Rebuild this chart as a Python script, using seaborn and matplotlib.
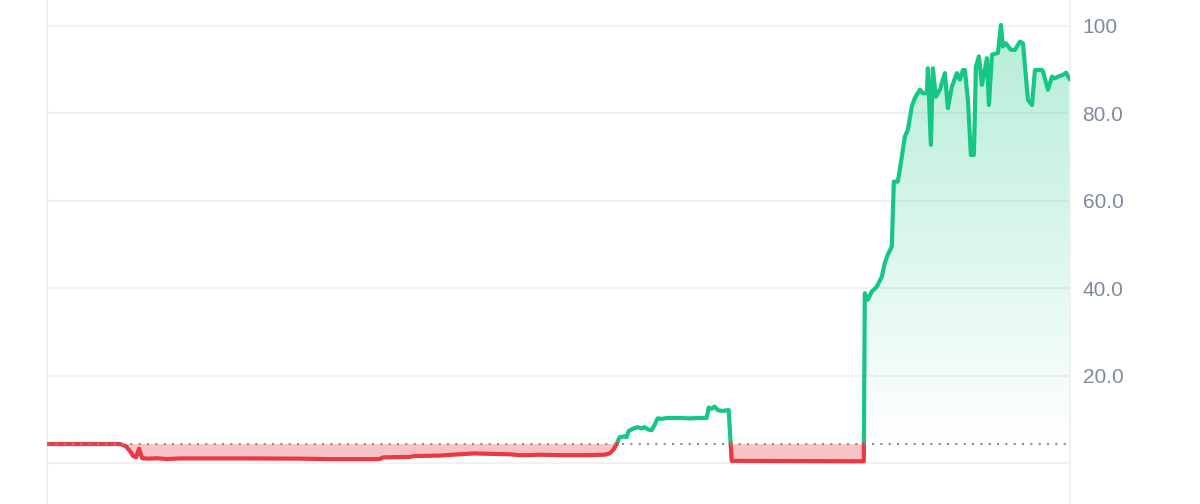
import numpy as np
import pandas as pd
import matplotlib
matplotlib.use("Agg")
import matplotlib.pyplot as plt
from matplotlib.path import Path
import seaborn as sns

# === Price series ===
t = [0, 72, 75, 79, 83, 86, 89, 92, 95, 102, 110, 120, 132, 152, 202, 252, 282,
     312, 332, 336, 362, 367, 392, 412, 427, 442, 462, 472, 482, 492, 512, 542,
     557, 562, 566, 569,
     572, 577, 579, 581, 585, 590, 594, 597, 600, 604, 607, 610, 614, 620, 632,
     642, 652, 659, 661, 664, 667, 670, 674, 681, 684,
     814, 816, 817, 820, 824, 829, 834, 837, 840, 844, 846, 850, 853, 857, 860,
     864, 867, 872, 875, 879, 880, 883, 885, 888, 892, 897, 900, 904, 909, 912,
     915, 917, 920, 923, 926, 928, 931, 934, 939, 941, 944, 950, 953, 955, 958,
     963, 967, 972, 975, 980, 984, 987, 994, 995, 1000, 1004, 1007, 1010, 1015,
     1018, 1022]
price = [4.44, 4.44, 4.3, 3.9, 2.8, 1.7, 1.4, 3.4, 1.2, 1.1, 1.2, 1.0, 1.15,
         1.15, 1.15, 1.1, 1.0, 1.0, 1.0, 1.4, 1.5, 1.7, 1.8, 2.1, 2.3, 2.2, 2.1,
         1.9, 1.9, 2.0, 1.9, 1.9, 2.0, 2.3, 3.2, 4.4,
         6.0, 6.2, 6.0, 7.4, 7.9, 8.3, 8.0, 8.3, 7.8, 7.6, 8.8, 10.3, 10.2, 10.4,
         10.4, 10.3, 10.4, 10.4, 12.8, 12.5, 13.0, 12.2, 12.0, 12.2, 0.6,
         0.5, 0.5, 38.9, 37.4, 39.3, 40.4, 42.7, 45.8, 47.7, 49.6, 64.4, 64.4,
         68.6, 74.7, 76.2, 81.6, 83.5, 85.4, 84.6, 84.6, 90.3, 72.8, 90.3, 83.8,
         85.4, 89.2, 81.2, 86.1, 89.2, 87.7, 89.9, 89.9, 83.1, 70.5, 70.5, 90.7,
         93.0, 86.5, 92.6, 81.9, 93.4, 93.8, 100.2, 95.3, 96.0, 94.5, 94.5, 96.4,
         96.0, 83.1, 81.9, 89.9, 89.9, 89.6, 85.4, 88.4, 88.0, 88.4, 88.8, 89.3,
         87.7]
baseline = 4.45
yticks = [20, 40, 60, 80, 100]
ytick_labels = ["20.0", "40.0", "60.0", "80.0", "100"]

GREEN = "#16c784"
RED = "#ea3943"

# === Split into above / below baseline segments ===
rows = []
seg = 0
prev_side = None
for i in range(len(t)):
    side = price[i] >= baseline
    if prev_side is not None and side != prev_side:
        # crossing point
        x0, y0, x1, y1 = t[i - 1], price[i - 1], t[i], price[i]
        xc = x0 + (baseline - y0) * (x1 - x0) / (y1 - y0)
        rows.append({"t": xc, "price": baseline, "seg": seg, "up": prev_side})
        seg += 1
        rows.append({"t": xc, "price": baseline, "seg": seg, "up": side})
    rows.append({"t": t[i], "price": price[i], "seg": seg, "up": side})
    prev_side = side
df = pd.DataFrame(rows)

sns.set_style("white")
fig = plt.figure(figsize=(12, 5.04), dpi=100)
ax = fig.add_axes([47 / 1200, 0, (1070 - 47) / 1200, 1])

tt = np.array(t, dtype=float)
pp = np.array(price, dtype=float)

# red fill below baseline
ax.fill_between(tt, pp, baseline, where=pp <= baseline, interpolate=True,
                color="#f7c3c7", linewidth=0, zorder=1)

# green gradient fill above baseline
poly = ax.fill_between(tt, pp, baseline, where=pp >= baseline, interpolate=True,
                       color="none", linewidth=0, zorder=1)
grad = np.linspace(0, 1, 256).reshape(-1, 1)
cmap = matplotlib.colors.LinearSegmentedColormap.from_list(
    "g", [(0.086, 0.78, 0.52, 0.0), (0.086, 0.78, 0.52, 0.32)])
img = ax.imshow(grad, aspect="auto", cmap=cmap, origin="lower",
                extent=[tt[0], tt[-1], baseline, 100.5], zorder=1)
img.set_clip_path(Path.make_compound_path(*poly.get_paths()), transform=ax.transData)

# dotted baseline
ax.axhline(baseline, color="#8c8c8c", linestyle=(0, (1, 3)), linewidth=1.5, zorder=4)

# price line
sns.lineplot(data=df[df["up"]], x="t", y="price", units="seg", estimator=None,
             color=GREEN, linewidth=3, ax=ax, zorder=3, sort=False)
sns.lineplot(data=df[~df["up"]], x="t", y="price", units="seg", estimator=None,
             color=RED, linewidth=3, ax=ax, zorder=3, sort=False)

ax.set_xlim(tt[0], tt[-1])
ax.set_ylim(-9.26, 105.9)
ax.set_yticks([0] + yticks)
ax.set_yticklabels([""] + ytick_labels)
ax.yaxis.tick_right()
ax.tick_params(axis="y", length=0, pad=9, labelsize=15, labelcolor="#808a9d")
for lab in ax.get_yticklabels():
    lab.set_fontfamily(["Liberation Sans", "DejaVu Sans"])
ax.set_xticks([])
ax.set_xlabel("")
ax.set_ylabel("")
ax.grid(axis="y", color="#f1f1f1", linewidth=1.5, zorder=0)
ax.set_axisbelow(True)
for side in ["top", "bottom"]:
    ax.spines[side].set_visible(False)
for side in ["left", "right"]:
    ax.spines[side].set_color("#f1f1f1")
    ax.spines[side].set_linewidth(1.5)

fig.savefig("out.png", dpi=100)
